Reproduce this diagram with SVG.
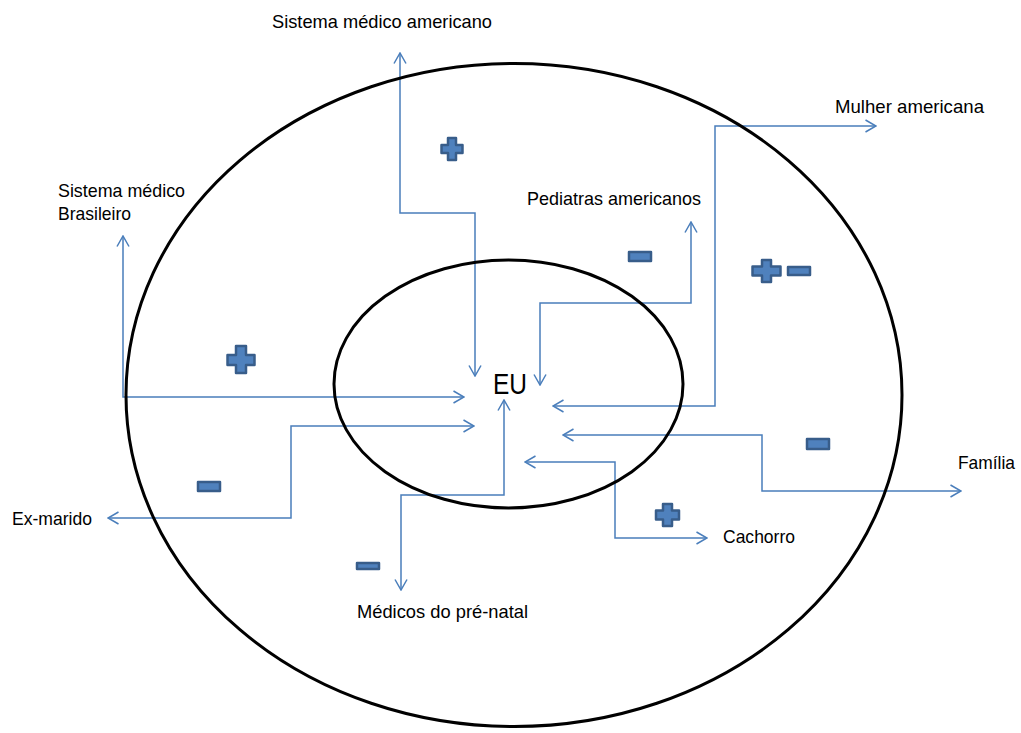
<svg xmlns="http://www.w3.org/2000/svg" width="1021" height="733" viewBox="0 0 1021 733">
  <style>
    .lbl { font-family: "Liberation Sans", Arial, sans-serif; font-size: 19px; fill: #000; }
    .eu { font-family: "Liberation Sans", Arial, sans-serif; font-size: 30px; fill: #000; }
    .conn { fill: none; stroke: #4a7ebb; stroke-width: 1.5; marker-start: url(#arrow); marker-end: url(#arrow); }
    .ring { fill: none; stroke: #000; stroke-width: 3; }
    .sign { fill: #4f81bd; stroke: #385d8a; stroke-width: 2.5; stroke-linejoin: round; }
  </style>
  <defs>
    <marker id="arrow" viewBox="0 0 12 14" refX="11" refY="7" markerWidth="12" markerHeight="14" markerUnits="userSpaceOnUse" orient="auto-start-reverse">
      <path d="M0.5,1 L11,7 L0.5,13" fill="none" stroke="#4a7ebb" stroke-width="1.5"/>
    </marker>
  </defs>
  <rect width="1021" height="733" fill="#fff"/>

  <!-- connectors: every relation is two-way between EU and its label -->
  <g id="connectors">
    <path class="conn" d="M475,376 V213 H400 V53"/>
    <path class="conn" d="M540,385 V303 H691 V222"/>
    <path class="conn" d="M553,406 H715 V126 H876"/>
    <path class="conn" d="M563,435 H762 V491 H961"/>
    <path class="conn" d="M525,462 H615 V538 H707"/>
    <path class="conn" d="M504,400 V495 H401 V590"/>
    <path class="conn" d="M474,426 H291 V518 H108"/>
    <path class="conn" d="M464,397 H123 V236"/>
  </g>

  <!-- circles of relations -->
  <g id="outer-ring"><ellipse class="ring" cx="514" cy="395" rx="388" ry="331.5"/></g>
  <g id="inner-ring"><ellipse class="ring" cx="508.5" cy="384" rx="174.5" ry="124"/></g>

  <g id="eu"><text class="eu" x="493" y="394" textLength="34" lengthAdjust="spacingAndGlyphs">EU</text></g>

  <g id="sistema-americano"><text class="lbl" x="272" y="28" textLength="220" lengthAdjust="spacingAndGlyphs">Sistema médico americano</text></g>
  <g id="mulher-americana"><text class="lbl" x="835" y="113" textLength="149" lengthAdjust="spacingAndGlyphs">Mulher americana</text></g>
  <g id="pediatras"><text class="lbl" x="527" y="205" textLength="174" lengthAdjust="spacingAndGlyphs">Pediatras americanos</text></g>
  <g id="sistema-brasileiro">
    <text class="lbl" x="58" y="197" textLength="127" lengthAdjust="spacingAndGlyphs">Sistema médico</text>
    <text class="lbl" x="58" y="220" textLength="73" lengthAdjust="spacingAndGlyphs">Brasileiro</text>
  </g>
  <g id="familia"><text class="lbl" x="958" y="469" textLength="57" lengthAdjust="spacingAndGlyphs">Família</text></g>
  <g id="ex-marido"><text class="lbl" x="12" y="525" textLength="80" lengthAdjust="spacingAndGlyphs">Ex-marido</text></g>
  <g id="cachorro"><text class="lbl" x="723" y="543" textLength="72" lengthAdjust="spacingAndGlyphs">Cachorro</text></g>
  <g id="medicos-pre-natal"><text class="lbl" x="357" y="618" textLength="171" lengthAdjust="spacingAndGlyphs">Médicos do pré-natal</text></g>

  <!-- plus / minus signs -->
  <g id="signs">
    <path class="sign" d="M448,138 H456 V145 H462.5 V153 H456 V160 H448 V153 H441.5 V145 H448 Z"/>
    <path class="sign" d="M236,346 H246 V355 H254.5 V365 H246 V373 H236 V365 H227.5 V355 H236 Z"/>
    <path class="sign" d="M762,260 H771 V266.5 H780.5 V275.5 H771 V282 H762 V275.5 H752.5 V266.5 H762 Z"/>
    <path class="sign" d="M663,504 H672 V510.5 H679 V519.5 H672 V526 H663 V519.5 H656 V510.5 H663 Z"/>
    <rect class="sign" x="629" y="252" width="22" height="9"/>
    <rect class="sign" x="788" y="267" width="22" height="8"/>
    <rect class="sign" x="807" y="439" width="22" height="10"/>
    <rect class="sign" x="198" y="482" width="22" height="9"/>
    <rect class="sign" x="357" y="563" width="22" height="6"/>
  </g>
</svg>
